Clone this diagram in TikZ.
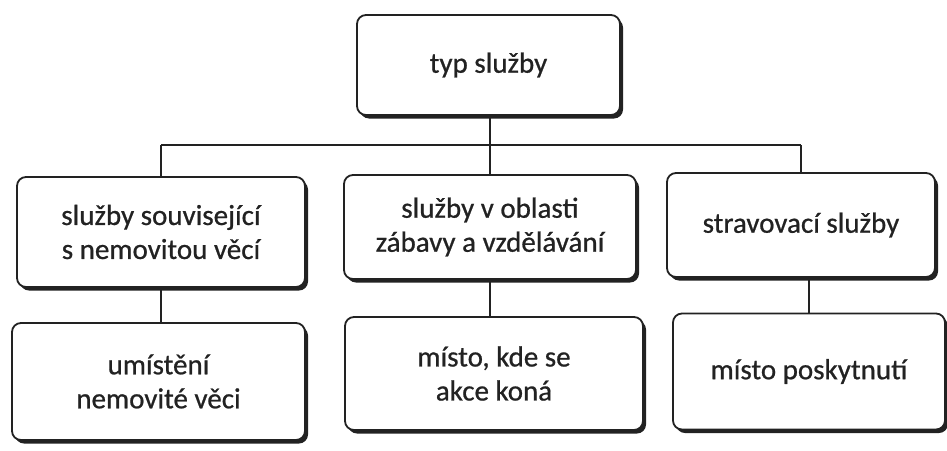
\documentclass[tikz,border=0pt]{standalone}
\usepackage{fontspec}
\setmainfont{Carlito}[UprightFeatures={FakeBold=0.7}]
\usetikzlibrary{shadows}
\definecolor{ink}{HTML}{222222}
\tikzset{
  box/.style={draw=ink, line width=1.8pt, fill=white, rounded corners=9pt,
    minimum width=#1, align=center, text=ink,
    font=\fontsize{29}{34}\selectfont,
    drop shadow={shadow xshift=3pt, shadow yshift=-3.5pt, fill=ink, opacity=1}},
  conn/.style={draw=ink, line width=1.8pt}
}
\begin{document}
\begin{tikzpicture}[x=1pt,y=-1pt]
\useasboundingbox (0,0) rectangle (947,450);
\node[box=263pt, minimum height=100pt] (top) at (488.5,65) {typ služby};
\node[box=288pt, minimum height=110pt] (m1) at (161,232) {služby související\\s nemovitou věcí};
\node[box=292pt, minimum height=104pt] (m2) at (490,227) {služby v oblasti\\zábavy a vzdělávání};
\node[box=268pt, minimum height=104pt] (m3) at (801,225) {stravovací služby};
\node[box=293pt, minimum height=117pt] (b1) at (158.5,381.5) {umístění\\nemovité věci};
\node[box=298pt, minimum height=113pt] (b2) at (494,373.5) {místo, kde se\\akce koná};
\node[box=272pt, minimum height=116pt] (b3) at (809,371.5) {místo poskytnutí};
\coordinate (bus) at (0,145);
\draw[conn] (m2.north) -- (m2.north |- top.south);
\draw[conn] (m1.north |- bus) -- (m3.north |- bus);
\draw[conn] (m1.north |- bus) -- (m1.north);
\draw[conn] (m3.north |- bus) -- (m3.north);
\draw[conn] (m1.south) -- (m1.south |- b1.north);
\draw[conn] (m2.south) -- (m2.south |- b2.north);
\draw[conn] (b3.north) -- (b3.north |- m3.south);
\end{tikzpicture}
\end{document}
